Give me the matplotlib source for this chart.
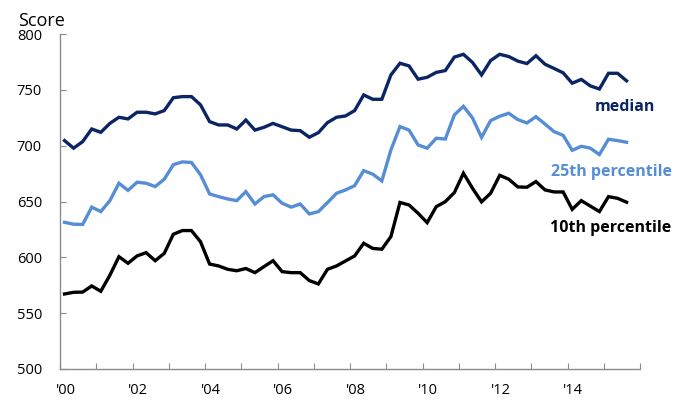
import matplotlib.pyplot as plt
import matplotlib.transforms as mtransforms
import numpy as np

# quarterly scores, 2000 Q1 .. 2015 Q3
median = [704.6, 697.8, 703.7, 715, 712, 720, 725.5, 724, 730, 730, 728.5, 731.5,
          743, 744, 744, 736.6, 721.6, 718.6, 718.6, 715, 723, 714, 716.5, 720,
          717, 714, 713.5, 707.6, 711.7, 720.7, 725.5, 726.7, 731.5, 745.5, 741.6, 741.6,
          763.4, 773.9, 771.5, 759.6, 761.3, 765.7, 767.3, 779.4, 781.9, 774.6, 763.4, 776.3,
          781.9, 779.9, 775.8, 773.6, 780.6, 773, 769.2, 765.3, 756, 759.4, 753.6, 750.8,
          764.9, 764.9, 758.1]
p25 = [631.4, 629.7, 629.5, 645, 641, 650.8, 666.4, 660, 667.3, 666.4, 663.4, 670,
       683, 685.5, 685, 674, 656.8, 654.4, 652.3, 650.8, 658.9, 647.8, 654.4, 656,
       648.5, 645, 647.8, 638.9, 641, 649, 657.4, 660.4, 664.2, 677.7, 674.5, 668.5,
       696.2, 717.1, 714, 700.7, 697.8, 706.7, 706, 727.6, 735.3, 724.9, 707.5, 722.5,
       726.4, 729.1, 723.4, 720.4, 726, 719.4, 712.6, 709.3, 695.9, 699.5, 697.8, 692.1,
       705.8, 704.6, 703.1]
p10 = [567.2, 568.7, 568.9, 574.4, 569.6, 584, 600.6, 594.7, 601.3, 604.2, 597, 603.6,
       620.7, 624, 624, 614, 594, 592.3, 589.3, 588, 590, 586.3, 591.7, 597,
       587.2, 586.3, 586.3, 579.2, 576.2, 589.3, 592.3, 596.8, 601.3, 612.6, 608, 607.3,
       618.6, 649.2, 646.9, 639.5, 631.1, 645.4, 649.9, 658, 675.4, 661.9, 649.7, 657.4,
       673.5, 670, 663.1, 662.8, 667.9, 660.4, 658.6, 658.6, 643, 650.8, 645.9, 641,
       654.4, 652.9, 649.4]
years = list(range(2000, 2017))
year_labels = ["'00", "", "'02", "", "'04", "", "'06", "", "'08", "", "'10", "", "'12", "", "'14", "", ""]

navy = '#0b2463'
light = '#558ed5'

plt.rcParams['font.family'] = ['Open Sans', 'DejaVu Sans']

fig = plt.figure(figsize=(6.85, 4.03), dpi=100)
ax = fig.add_axes([0.0876, 0.0844, 0.847, 0.831])

t = 2000 + (np.arange(len(median)) + 0.5) / 4
ax.plot(t, median, color=navy, lw=2.4, solid_joinstyle='miter')
ax.plot(t, p25, color=light, lw=2.4, solid_joinstyle='miter')
ax.plot(t, p10, color='black', lw=2.4, solid_joinstyle='miter')

ax.set_xlim(2000, 2016)
ax.set_ylim(500, 800)
ax.set_yticks(range(500, 801, 50))
ax.set_xticks(years)
ax.set_xticklabels(year_labels)

for s in ['top', 'right']:
    ax.spines[s].set_visible(False)
for s in ['left', 'bottom']:
    ax.spines[s].set_color('#8c8c8c')
    ax.spines[s].set_linewidth(1)

ax.tick_params(direction='in', length=4.5, color='#8c8c8c', labelsize=10.5)
ax.tick_params(axis='y', pad=13)
ax.tick_params(axis='x', pad=10)
offset = mtransforms.ScaledTranslation(4 / 72, 0, fig.dpi_scale_trans)
for lab in ax.get_xticklabels():
    lab.set_transform(lab.get_transform() + offset)

fig.text(0.026, 0.948, 'Score', fontsize=13, ha='left', va='center')

ax.text(2016.4, 735, 'median', color=navy, fontsize=11.5, fontweight='bold', ha='right', va='center')
ax.text(2016.87, 676.8, '25th percentile', color=light, fontsize=11.5, fontweight='bold', ha='right', va='center')
ax.text(2016.87, 626.3, '10th percentile', color='black', fontsize=11.5, fontweight='bold', ha='right', va='center')

fig.savefig('out.png', dpi=100)
